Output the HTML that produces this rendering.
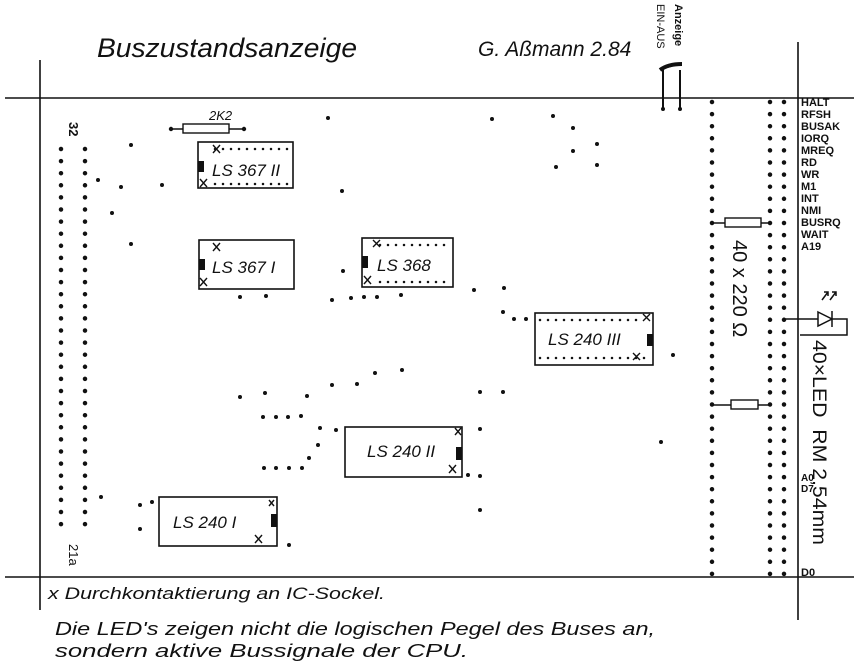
<!DOCTYPE html>
<html><head><meta charset="utf-8"><style>
html,body{margin:0;padding:0;background:#fff;}
svg{display:block}
text{font-family:"Liberation Sans",sans-serif;fill:#111}
.h{font-style:italic}
</style></head><body>
<svg width="854" height="664" viewBox="0 0 854 664" xmlns="http://www.w3.org/2000/svg">
<g stroke="#111" stroke-width="1.6" fill="none">
<line x1="5" y1="98" x2="854" y2="98"/>
<line x1="5" y1="577" x2="854" y2="577"/>
<line x1="40" y1="60" x2="40" y2="610"/>
<line x1="798" y1="42" x2="798" y2="620"/>
</g>
<g stroke="#111" stroke-width="4.5" stroke-linecap="round" stroke-dasharray="0 12.1">
<line x1="61" y1="149" x2="61" y2="530"/>
<line x1="85" y1="149" x2="85" y2="530"/>
<line x1="712" y1="102" x2="712" y2="576"/>
<line x1="770" y1="102" x2="770" y2="576"/>
<line x1="784" y1="102" x2="784" y2="576"/>
</g>
<g fill="#111">
<circle cx="131" cy="145" r="2"/><circle cx="98" cy="180" r="2"/><circle cx="121" cy="187" r="2"/><circle cx="162" cy="185" r="2"/>
<circle cx="112" cy="213" r="2"/><circle cx="131" cy="244" r="2"/><circle cx="240" cy="297" r="2"/><circle cx="266" cy="296" r="2"/>
<circle cx="328" cy="118" r="2"/><circle cx="492" cy="119" r="2"/><circle cx="553" cy="116" r="2"/><circle cx="573" cy="128" r="2"/>
<circle cx="597" cy="144" r="2"/><circle cx="573" cy="151" r="2"/><circle cx="556" cy="167" r="2"/><circle cx="597" cy="165" r="2"/>
<circle cx="342" cy="191" r="2"/><circle cx="343" cy="271" r="2"/><circle cx="332" cy="300" r="2"/><circle cx="351" cy="298" r="2"/>
<circle cx="364" cy="297" r="2"/><circle cx="377" cy="297" r="2"/><circle cx="401" cy="295" r="2"/><circle cx="474" cy="290" r="2"/>
<circle cx="504" cy="288" r="2"/><circle cx="503" cy="312" r="2"/><circle cx="514" cy="319" r="2"/><circle cx="526" cy="319" r="2"/>
<circle cx="375" cy="373" r="2"/><circle cx="402" cy="370" r="2"/><circle cx="357" cy="384" r="2"/><circle cx="332" cy="385" r="2"/>
<circle cx="307" cy="396" r="2"/><circle cx="240" cy="397" r="2"/><circle cx="265" cy="393" r="2"/><circle cx="480" cy="392" r="2"/><circle cx="503" cy="392" r="2"/>
<circle cx="263" cy="417" r="2"/><circle cx="276" cy="417" r="2"/><circle cx="288" cy="417" r="2"/><circle cx="301" cy="416" r="2"/>
<circle cx="320" cy="428" r="2"/><circle cx="336" cy="430" r="2"/><circle cx="318" cy="445" r="2"/><circle cx="309" cy="458" r="2"/>
<circle cx="264" cy="468" r="2"/><circle cx="276" cy="468" r="2"/><circle cx="289" cy="468" r="2"/><circle cx="302" cy="468" r="2"/>
<circle cx="480" cy="429" r="2"/><circle cx="468" cy="475" r="2"/><circle cx="480" cy="476" r="2"/><circle cx="480" cy="510" r="2"/>
<circle cx="101" cy="497" r="2"/><circle cx="140" cy="505" r="2"/><circle cx="152" cy="502" r="2"/><circle cx="140" cy="529" r="2"/><circle cx="289" cy="545" r="2"/>
<circle cx="661" cy="442" r="2"/><circle cx="673" cy="355" r="2"/>
</g>
<g stroke="#111" stroke-width="1.6" fill="#fff">
<rect x="198" y="142" width="95" height="46"/>
<rect x="199" y="240" width="95" height="49"/>
<rect x="362" y="238" width="91" height="49"/>
<rect x="535" y="313" width="118" height="52"/>
<rect x="345" y="427" width="117" height="50"/>
<rect x="159" y="497" width="118" height="49"/>
</g>
<g fill="#111">
<rect x="198" y="161" width="6" height="11"/><rect x="199" y="259" width="6" height="11"/><rect x="362" y="256" width="6" height="12"/>
<rect x="647" y="334" width="6" height="12"/><rect x="456" y="447" width="6" height="13"/><rect x="271" y="514" width="6" height="13"/>
</g>
<g stroke="#111" stroke-linecap="round" stroke-dasharray="0 8" stroke-width="2.5">
<line x1="215" y1="149" x2="290" y2="149"/><line x1="215" y1="184" x2="290" y2="184"/>
<line x1="380" y1="245" x2="450" y2="245"/><line x1="380" y1="282" x2="450" y2="282"/>
<line x1="540" y1="320" x2="640" y2="320"/><line x1="540" y1="358" x2="650" y2="358"/>
</g>
<g stroke="#111" stroke-width="1.4" fill="none">
<path d="M213 145l7 8M220 145l-7 8M200 179l7 8M207 179l-7 8"/>
<path d="M213 243l7 8M220 243l-7 8M200 278l7 8M207 278l-7 8"/>
<path d="M373 240l7 7M380 240l-7 7M364 276l7 8M371 276l-7 8"/>
<path d="M643 314l7 7M650 314l-7 7M633 353l7 7M640 353l-7 7"/>
<path d="M455 428l6 7M461 428l-6 7M449 465l7 8M456 465l-7 8"/>
<path d="M269 500l5 6M274 500l-5 6M255 535l7 8M262 535l-7 8"/>
</g>
<g stroke="#111" stroke-width="1.4" fill="#fff">
<line x1="171" y1="129" x2="244" y2="129"/><rect x="183" y="124" width="46" height="9"/>
<line x1="712" y1="223" x2="770" y2="223"/><rect x="725" y="218" width="36" height="9"/>
<line x1="712" y1="405" x2="770" y2="405"/><rect x="731" y="400" width="27" height="9"/>
</g>
<g fill="#111"><circle cx="171" cy="129" r="2.2"/><circle cx="244" cy="129" r="2.2"/></g>
<g stroke="#111" stroke-width="1.5" fill="none">
<path d="M784 319H818M818 312L832 319L818 326ZM832 311V327M832 319H847V335H800"/>
<path d="M822 300l6-8M830 300l6-8M824 292h4v4M832 292h4v4"/>
</g>
<g stroke="#111" stroke-width="2">
<line x1="663" y1="68" x2="663" y2="108"/><line x1="680" y1="70" x2="680" y2="108"/>
<path d="M660 70 Q668 64 682 64" stroke-width="4"/>
</g>
<g fill="#111"><circle cx="663" cy="109" r="2"/><circle cx="680" cy="109" r="2"/></g>
<text transform="translate(657,4) rotate(90)" font-size="11">EIN-AUS</text>
<text transform="translate(675,4) rotate(90)" font-size="11" font-weight="bold">Anzeige</text>
<text x="97" y="57" font-size="27" class="h" textLength="260" lengthAdjust="spacingAndGlyphs">Buszustandsanzeige</text>
<text x="478" y="56" font-size="21" class="h">G. Aßmann 2.84</text>
<text transform="translate(69,122) rotate(90)" font-size="13" font-weight="bold">32</text>
<text transform="translate(69,544) rotate(90)" font-size="13">21a</text>
<text x="209" y="120" font-size="13" class="h">2K2</text>
<text x="212" y="176" font-size="17" class="h">LS 367 II</text>
<text x="212" y="273" font-size="17" class="h">LS 367 I</text>
<text x="377" y="271" font-size="17" class="h">LS 368</text>
<text x="548" y="345" font-size="17" class="h">LS 240 III</text>
<text x="367" y="457" font-size="17" class="h">LS 240 II</text>
<text x="173" y="528" font-size="17" class="h">LS 240 I</text>
<text transform="translate(733,240) rotate(90)" font-size="20">40 x 220 Ω</text>
<text transform="translate(813,340) rotate(90)" font-size="19" textLength="205" lengthAdjust="spacingAndGlyphs">40×LED&#160; RM 2,54mm</text>
<g font-size="11" font-weight="bold">
<text x="801" y="106">HALT</text><text x="801" y="118">RFSH</text><text x="801" y="130">BUSAK</text>
<text x="801" y="142">IORQ</text><text x="801" y="154">MREQ</text><text x="801" y="166">RD</text>
<text x="801" y="178">WR</text><text x="801" y="190">M1</text><text x="801" y="202">INT</text>
<text x="801" y="214">NMI</text><text x="801" y="226">BUSRQ</text><text x="801" y="238">WAIT</text>
<text x="801" y="250">A19</text>
<text x="801" y="481" font-size="10">A0</text><text x="801" y="492" font-size="10">D7</text>
<text x="801" y="576">D0</text>
</g>
<text x="48" y="599" font-size="17" class="h" textLength="337" lengthAdjust="spacingAndGlyphs">x Durchkontaktierung an IC-Sockel.</text>
<text x="55" y="635" font-size="18" class="h" textLength="600" lengthAdjust="spacingAndGlyphs">Die LED's zeigen nicht die logischen Pegel des Buses an,</text>
<text x="55" y="657" font-size="18" class="h" textLength="413" lengthAdjust="spacingAndGlyphs">sondern aktive Bussignale der CPU.</text>
</svg>
</body></html>
